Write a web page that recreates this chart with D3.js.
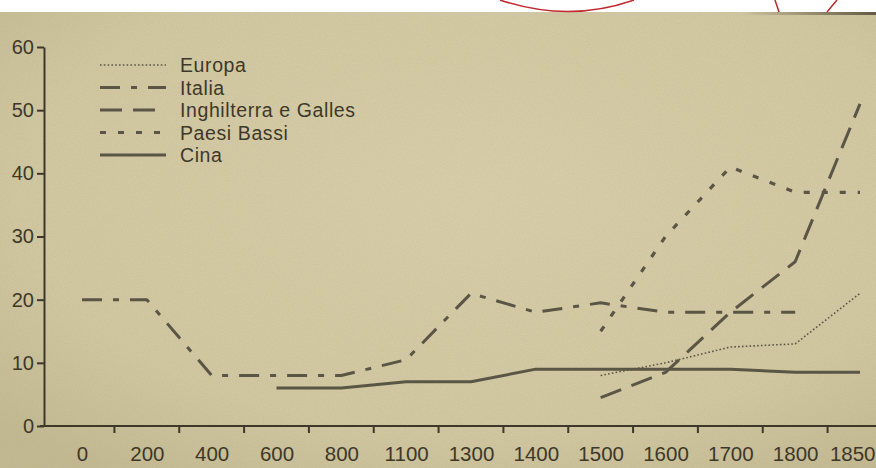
<!DOCTYPE html>
<html>
<head>
<meta charset="utf-8">
<script src="https://cdn.jsdelivr.net/npm/d3@7"></script>
<style>
  html, body { margin: 0; padding: 0; background: #ffffff; }
  svg { display: block; }
  text { font-family: "Liberation Sans", Arial, Helvetica, sans-serif; }
</style>
</head>
<body>
<svg id="chart" width="876" height="468"></svg>
<script>
// ---- data ----
const categories = ["0","200","400","600","800","1100","1300","1400","1500","1600","1700","1800","1850"];
const yTicks = [0, 10, 20, 30, 40, 50, 60];
const seriesNames = ["Europa", "Italia", "Inghilterra e Galles", "Paesi Bassi", "Cina"];
const europa      = [null, null, null, null, null, null, null, null, 8, 10, 12.5, 13, 21];
const italia      = [20, 20, 8, 8, 8, 10.5, 21, 18, 19.5, 18, 18, 18, null];
const inghilterra = [null, null, null, null, null, null, null, null, 4.5, 8.5, 18, 26, 51];
const paesiBassi  = [null, null, null, null, null, null, null, null, 15, 30, 41, 37, 37];
const cina        = [null, null, null, 6, 6, 7, 7, 9, 9, 9, 9, 8.5, 8.5];

const W = 876, H = 468;
const svg = d3.select("#chart");
const defs = svg.append("defs");

// paper background
const bg = defs.append("radialGradient").attr("id", "paper")
  .attr("cx", "55%").attr("cy", "40%").attr("r", "75%");
bg.append("stop").attr("offset", "0%").attr("stop-color", "#dad1ab");
bg.append("stop").attr("offset", "70%").attr("stop-color", "#d3c9a2");
bg.append("stop").attr("offset", "100%").attr("stop-color", "#c4ba91");

const noise = defs.append("filter").attr("id", "grain").attr("x", 0).attr("y", 0).attr("width", "100%").attr("height", "100%");
noise.append("feTurbulence").attr("type", "fractalNoise").attr("baseFrequency", 0.9).attr("numOctaves", 2).attr("seed", 3).attr("result", "n");
noise.append("feColorMatrix").attr("type", "matrix")
  .attr("values", "0 0 0 0 0.35  0 0 0 0 0.32  0 0 0 0 0.22  0 0 0 0.22 -0.02");

const shade = defs.append("linearGradient").attr("id", "edge").attr("x1", "0").attr("x2", "1");
shade.append("stop").attr("offset", "0%").attr("stop-color", "#4a4030").attr("stop-opacity", 0);
shade.append("stop").attr("offset", "100%").attr("stop-color", "#4a4030").attr("stop-opacity", 0.8);

svg.append("rect").attr("x", 0).attr("y", 0).attr("width", W).attr("height", H).attr("fill", "#ffffff");
svg.append("rect").attr("x", 0).attr("y", 12).attr("width", W).attr("height", H - 12).attr("fill", "url(#paper)");
svg.append("rect").attr("x", 0).attr("y", 12).attr("width", W).attr("height", H - 12).attr("filter", "url(#grain)");
svg.append("rect").attr("x", 740).attr("y", 12).attr("width", 136).attr("height", 3).attr("fill", "url(#edge)");

// red pen marks in the white strip
svg.append("path").attr("d", "M500,0 Q569,23 634,0").attr("fill", "none").attr("stroke", "#c0282d").attr("stroke-width", 1.5);
svg.append("path").attr("d", "M775,0 L779,12 M837,0 L827,12").attr("fill", "none").attr("stroke", "#c0282d").attr("stroke-width", 1.5);

// ---- scales ----
const x = d3.scalePoint().domain(categories).range([82, 860]);
const y = d3.scaleLinear().domain([0, 60]).range([426, 47]);
const ink = "#3d3829";
const lineInk = "#5b5546";

// y axis
const yAxis = svg.append("g").attr("transform", "translate(44,0)")
  .call(d3.axisLeft(y).tickValues(yTicks).tickSize(7).tickSizeOuter(0).tickPadding(3));
yAxis.select(".domain").attr("stroke", ink).attr("stroke-width", 2);
yAxis.selectAll(".tick line").attr("stroke", ink).attr("stroke-width", 2);
yAxis.selectAll(".tick text").attr("fill", ink).attr("font-size", 20)
  .style("font-family", '"Liberation Sans", Arial, sans-serif');

// x axis: labels centred on categories, ticks between them
const step = x.step();
const xAxis = svg.append("g").attr("transform", "translate(0,426)")
  .call(d3.axisBottom(x).tickSize(0).tickPadding(20));
xAxis.select(".domain").remove();
xAxis.selectAll(".tick text").attr("fill", ink).attr("font-size", 20.5).attr("dy", "0.71em")
  .style("font-family", '"Liberation Sans", Arial, sans-serif');
// keep the last label inside the picture
xAxis.selectAll(".tick text").filter(d => d === categories[categories.length - 1])
  .attr("text-anchor", "end").attr("x", W - x(categories[categories.length - 1]) - 1);
svg.append("line").attr("x1", 40).attr("x2", W).attr("y1", 426).attr("y2", 426)
  .attr("stroke", ink).attr("stroke-width", 2);
svg.append("g").selectAll("line").data(categories.slice(0, -1)).join("line")
  .attr("x1", d => x(d) + step / 2).attr("x2", d => x(d) + step / 2)
  .attr("y1", 426).attr("y2", 433).attr("stroke", ink).attr("stroke-width", 2);

// ---- series ----
const styles = {
  "Europa":               { data: europa,      dash: "1.6,2.2", width: 1.6 },
  "Italia":               { data: italia,      dash: "20,11,6,11", width: 3 },
  "Inghilterra e Galles": { data: inghilterra, dash: "22,11", width: 3 },
  "Paesi Bassi":          { data: paesiBassi,  dash: "6,12", width: 3.2 },
  "Cina":                 { data: cina,        dash: null, width: 3 }
};

const line = d3.line()
  .defined(d => d.v !== null)
  .x(d => x(d.c))
  .y(d => y(d.v));

seriesNames.forEach(name => {
  const s = styles[name];
  const pts = categories.map((c, i) => ({ c, v: s.data[i] }));
  svg.append("path").datum(pts)
    .attr("d", line)
    .attr("fill", "none")
    .attr("stroke", lineInk)
    .attr("stroke-width", s.width)
    .attr("stroke-dasharray", s.dash)
    .attr("stroke-linejoin", "round");
});

// ---- legend ----
const legend = svg.append("g");
seriesNames.forEach((name, i) => {
  const s = styles[name];
  const base = 72 + i * 22.5;
  legend.append("line").attr("x1", 100).attr("x2", 166).attr("y1", base - 7).attr("y2", base - 7)
    .attr("stroke", lineInk).attr("stroke-width", s.width).attr("stroke-dasharray", s.dash);
  legend.append("text").attr("x", 180).attr("y", base).attr("fill", ink)
    .attr("font-size", 19.5).attr("letter-spacing", 0.6).text(name);
});
</script>
</body>
</html>
